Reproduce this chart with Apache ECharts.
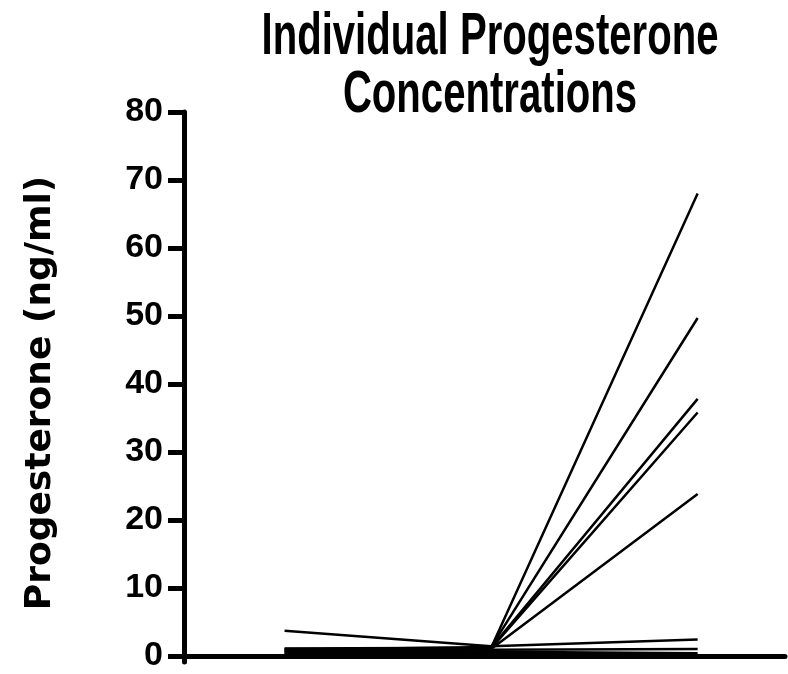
<!DOCTYPE html>
<html>
<head>
<meta charset="utf-8">
<script src="https://cdn.jsdelivr.net/npm/echarts@6/dist/echarts.min.js"></script>
<style>
html,body{margin:0;padding:0;background:#fff;}
#c{width:788px;height:674px;}
</style>
</head>
<body>
<div id="c"></div>
<script>
// Time points (x positions of the three measurements)
var timePoints = [1, 2, 3];
// Individual progesterone concentrations (ng/ml)
var subject1 = [1.1, 1.2, 68];
var subject2 = [0.9, 1.3, 49.7];
var subject3 = [0.5, 1.2, 37.8];
var subject4 = [0.8, 1.1, 35.8];
var subject5 = [0.3, 1.0, 23.8];
var subject6 = [3.7, 1.4, 2.4];
var subject7 = [1.0, 0.9, 1.0];
var subject8 = [0.6, 0.6, 0.4];
var subject9 = [0.2, 0.4, 0.1];
var subject10 = [0.1, 0.2, 0.1];
var subjects = [subject1, subject2, subject3, subject4, subject5, subject6, subject7, subject8, subject9, subject10];
var yTicks = [0, 10, 20, 30, 40, 50, 60, 70, 80];
var titleText = 'Individual Progesterone\nConcentrations';
var yName = 'Progesterone (ng/ml)';

var series = subjects.map(function (vals, i) {
  return {
    type: 'line',
    name: 'Subject ' + (i + 1),
    symbol: 'none',
    lineStyle: { color: '#000', width: 2.5 },
    data: timePoints.map(function (t, j) { return [t, vals[j]]; }),
    animation: false
  };
});

var chart = echarts.init(document.getElementById('c'));
chart.setOption({
  backgroundColor: '#fff',
  animation: false,
  graphic: [{
    type: 'text',
    x: 490,
    y: 9,
    scaleX: 0.68,
    style: {
      text: titleText,
      font: 'bold 59px "Liberation Sans", Arial, sans-serif',
      lineHeight: 58,
      textAlign: 'center',
      textVerticalAlign: 'top',
      fill: '#000'
    }
  }],
  grid: { left: 184, right: 3, top: 112, bottom: 12, containLabel: false },
  xAxis: {
    type: 'value',
    min: 0.513,
    max: 3.423,
    axisLine: { show: true, lineStyle: { color: '#000', width: 5 } },
    axisTick: { show: false },
    axisLabel: { show: false },
    splitLine: { show: false }
  },
  yAxis: {
    type: 'value',
    min: -0.9,
    max: 80,
    name: yName,
    nameLocation: 'middle',
    nameGap: 125,
    nameTextStyle: {
      fontFamily: '"DejaVu Sans", sans-serif',
      fontWeight: 'bold',
      fontSize: 36,
      color: '#000',
      padding: [0, 12, 0, 0]
    },
    axisLine: { show: true, lineStyle: { color: '#000', width: 5 } },
    axisTick: { show: true, length: 16, customValues: yTicks, lineStyle: { color: '#000', width: 5 } },
    axisLabel: {
      customValues: yTicks,
      margin: 21,
      fontFamily: '"Liberation Sans", Arial, sans-serif',
      fontWeight: 'bold',
      fontSize: 34,
      color: '#000'
    },
    splitLine: { show: false }
  },
  series: series
});
</script>
</body>
</html>
